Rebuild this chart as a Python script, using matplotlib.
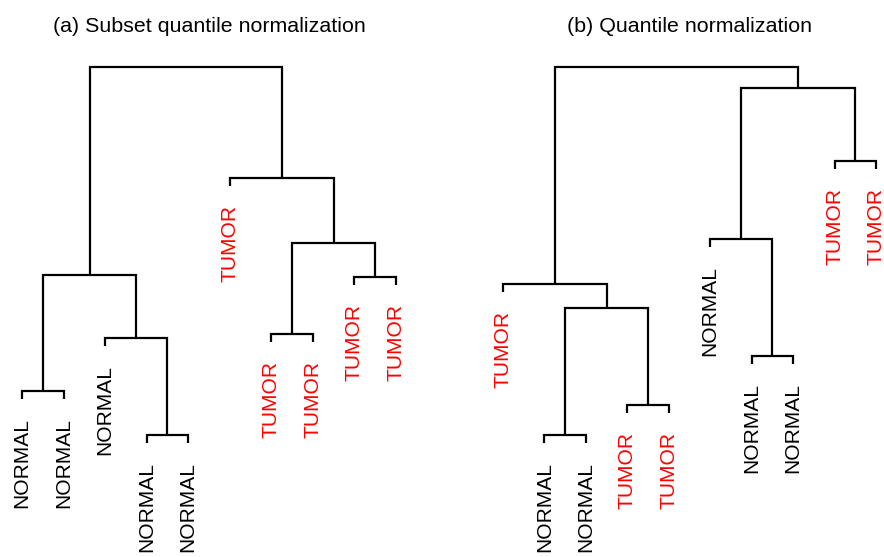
import matplotlib
matplotlib.use('Agg')
import matplotlib.pyplot as plt

plt.rcParams['font.family'] = ['Liberation Sans', 'DejaVu Sans']

# (a) subset quantile normalization: leaves in plotting order
labels_a = ['NORMAL', 'NORMAL', 'NORMAL', 'NORMAL', 'NORMAL',
            'TUMOR', 'TUMOR', 'TUMOR', 'TUMOR', 'TUMOR']
# merges: negative = leaf (1-based position), positive = earlier merge
merges_a = [(-1, -2), (-4, -5), (-3, 2), (1, 3), (-7, -8),
            (-9, -10), (5, 6), (-6, 7), (4, 8)]
heights_a = [0.79, 0.35, 1.32, 1.95, 1.36, 1.93, 2.27, 2.92, 4.03]

# (b) quantile normalization
labels_b = ['TUMOR', 'NORMAL', 'NORMAL', 'TUMOR', 'TUMOR',
            'NORMAL', 'NORMAL', 'NORMAL', 'TUMOR', 'TUMOR']
merges_b = [(-2, -3), (-4, -5), (1, 2), (-1, 3), (-7, -8),
            (-6, 5), (-9, -10), (6, 7), (4, 8)]
heights_b = [0.35, 0.65, 1.62, 1.86, 1.14, 2.31, 3.09, 3.82, 4.03]

titles = ['(a) Subset quantile normalization', '(b) Quantile normalization']
colors = {'NORMAL': 'black', 'TUMOR': 'red'}
hang = 0.08
gap = 0.19


def draw_dendro(ax, labels, merges, heights):
    node_x = []
    for (a, b), h in zip(merges, heights):
        pts = []
        for c in (a, b):
            if c < 0:
                x = -c
                y0 = h - hang
                lab = labels[x - 1]
                ax.text(x, y0 - gap, lab, rotation=90, ha='center', va='top',
                        fontsize=15.1, color=colors[lab])
            else:
                x = node_x[c - 1]
                y0 = heights[c - 1]
            pts.append((x, y0))
        (x1, y1), (x2, y2) = pts
        ax.plot([x1, x1, x2, x2], [y1, h, h, y2], color='black', lw=1.6,
                solid_joinstyle='miter', solid_capstyle='butt')
        node_x.append((x1 + x2) / 2)


fig = plt.figure(figsize=(8.84, 5.57), dpi=100)
ax1 = fig.add_axes([0.00136, 0.0, 0.4701, 0.9282])
ax2 = fig.add_axes([0.5456, 0.0, 0.4688, 0.9282])

for ax, labs, mer, hts, t in zip([ax1, ax2], [labels_a, labels_b],
                                 [merges_a, merges_b], [heights_a, heights_b],
                                 titles):
    draw_dendro(ax, labs, mer, hts)
    ax.set_xlim(0.5, 10.5)
    ax.set_ylim(-0.87, 4.30)
    ax.axis('off')
    ax.set_title(t, fontsize=15.4, pad=6)

fig.savefig('out.png', dpi=100)
